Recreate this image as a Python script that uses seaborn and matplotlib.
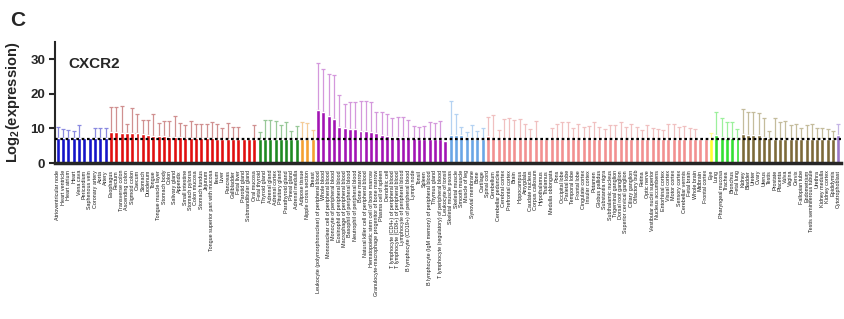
import numpy as np
import pandas as pd
import seaborn as sns
import matplotlib.pyplot as plt

nan = np.nan

# tissue groups (left to right), with bar colour and error-bar colour
group_names = ['heart', 'digestive', 'endocrine', 'breast', 'blood', 'muscle',
               'nervous', 'eye', 'respiratory', 'urogenital', 'embryo']
bar_colors = ['#1414c8', '#e01010', '#1f8a22', '#f5a030', '#a214b4', '#6aa6e6',
              '#f29090', '#ffff33', '#33e033', '#7d6a3a', '#9a78c8']
err_colors = ['#8a8ae0', '#d09090', '#98c898', '#f5cc98', '#d498dc', '#b4d2f2',
              '#f0c0c0', '#ffff99', '#9cf09c', '#c4bc9c', '#c4b4e4']

heart_labels = ['Atrioventricular node', 'Heart ventricle', 'Heart atrium', 'Heart',
                'Vena cava', 'Pericardium', 'Saphenous vein', 'Coronary artery',
                'Aorta', 'Artery']
heart_mean = [7.2, 7.2, 7.2, 7.2, 7.2, 7.1, 7.1, 7.2, 7.2, 7.2]
heart_tip = [10.3, 9.9, 9.7, 9.4, 11.0, nan, nan, 10.0, 10.1, 10.0]

digestive_labels = ['Esophagus', 'Rectum', 'Transverse colon', 'Ascending colon',
                    'Sigmoid colon', 'Caecum', 'Stomach', 'Duodenum', 'Tongue',
                    'Tongue muscle layer', 'Stomach body', 'Colon', 'Salivary gland',
                    'Appendix', 'Small intestine', 'Stomach pylorus', 'Colon mucosa',
                    'Stomach fundus', 'Jejunum', 'Tongue superior part with mucosa',
                    'Ileum', 'Liver', 'Pancreas', 'Gallbladder', 'Fetal liver',
                    'Parotid gland', 'Submandibular gland', 'Oral mucosa']
digestive_mean = [8.9, 8.9, 8.8, 8.8, 8.7, 8.6, 8.5, 8.1, 7.9, 7.8, 7.7, 7.6, 7.5, 7.4,
                  7.3, 7.2, 7.2, 7.1, 7.1, 7.1, 7.0, 7.0, 7.0, 7.0, 7.0, 6.9, 6.9, 6.9]
digestive_tip = [16.1, 16.1, 16.4, 11.4, 15.8, 14.2, 12.5, 12.5, 14.2, 11.6, 12.2, 12.3,
                 13.5, 11.5, 10.9, 12.3, 11.4, 11.4, 11.4, 11.9, 11.4, 10.1, 11.6, 10.4,
                 10.4, nan, nan, 11.0]

endocrine_labels = ['Fetal thyroid', 'Thyroid gland', 'Adrenal gland', 'Adrenal cortex',
                    'Pituitary gland', 'Parathyroid gland', 'Pineal gland',
                    'Adrenal medulla']
endocrine_mean = [7.0, 7.0, 7.0, 7.0, 7.0, 7.0, 7.0, 7.0]
endocrine_tip = [9.1, 12.5, 12.5, 12.3, 10.9, 11.8, 9.3, 10.7]

breast_labels = ['Adipose tissue', 'Nipple cross section', 'Breast']
breast_mean = [7.0, 7.0, 7.0]
breast_tip = [11.8, 11.5, 9.6]

blood_labels = ['Leukocyte (polymorphonuclear) of peripheral blood', 'Whole blood',
                'Mononuclear cell of peripheral blood', 'Monocyte of peripheral blood',
                'Eosinophil of peripheral blood', 'Macrophage of peripheral blood',
                'Basophil of peripheral blood', 'Neutrophil of peripheral blood',
                'Bone marrow', 'Natural killer cell of peripheral blood',
                'Hematopoietic stem cell of bone marrow',
                'Granulocyte-macrophage progenitor of bone marrow',
                'Plasma cell of spleen', 'Dendritic cell',
                'T lymphocyte (CD4+) of peripheral blood',
                'T lymphocyte (CD8+) of peripheral blood',
                'Lymphocyte of peripheral blood',
                'B lymphocyte (CD19+) of peripheral blood', 'Lymph node', 'Tonsil',
                'Spleen', 'B lymphocyte (IgM memory) of peripheral blood',
                'Thymus gland', 'T lymphocyte (regulatory) of peripheral blood',
                'Leukocyte of tonsil']
blood_mean = [15.3, 14.7, 13.7, 12.7, 10.3, 10.1, 9.8, 9.8, 9.4, 9.4, 9.1, 8.8, 8.2,
              7.7, 7.5, 7.5, 7.4, 7.2, 7.1, 7.0, 7.0, 7.0, 7.0, 7.0, 6.5]
blood_tip = [28.9, 27.3, 25.9, 25.6, 19.8, 17.1, 17.8, 17.8, 18.0, 17.9, 17.8, 14.7,
             14.7, 14.1, 13.0, 13.3, 13.3, 12.5, 10.8, 10.3, 10.6, 11.8, 11.6, 12.2, nan]

muscle_labels = ['Skeletal muscle psoas', 'Skeletal muscle', 'Smooth muscle',
                 'Muscle of leg', 'Synovial membrane', 'Bone', 'Cartilage']
muscle_mean = [8.2, 8.2, 8.0, 7.5, 7.0, 7.0, 7.0]
muscle_tip = [17.9, 14.3, 10.4, 9.0, 11.1, 9.4, 10.2]

nervous_labels = ['Spinal cord', 'Cerebellum', 'Cerebellar peduncles', 'Cerebral cortex',
                  'Prefrontal cortex', 'Brain', 'Hippocampus', 'Amygdala',
                  'Caudate nucleus', 'Corpus callosum', 'Hypothalamus', 'Thalamus',
                  'Medulla oblongata', 'Pons', 'Occipital lobe', 'Parietal lobe',
                  'Temporal lobe', 'Frontal lobe', 'Cingulate cortex', 'Insular cortex',
                  'Putamen', 'Globus pallidus', 'Substantia nigra', 'Subthalamic nucleus',
                  'Trigeminal ganglion', 'Dorsal root ganglion',
                  'Superior cervical ganglion', 'Ciliary ganglion', 'Olfactory bulb',
                  'Retina', 'Optic nerve', 'Vestibular nuclei superior',
                  'Nucleus accumbens', 'Entorhinal cortex', 'Visual cortex',
                  'Motor cortex', 'Sensory cortex', 'Cerebellar vermis', 'Fetal brain',
                  'Whole brain', 'Midbrain', 'Frontal cortex']
nervous_mean = [7.7, 7.2, 7.0, 7.0, 7.0, 7.0, 7.0, 7.0, 7.0, 7.0, 7.0, 7.0, 7.0, 7.0,
                7.0, 7.0, 7.0, 7.0, 7.0, 7.0, 7.0, 7.0, 7.0, 7.0, 7.0, 7.0, 7.0, 7.0,
                7.0, 7.0, 7.0, 7.0, 7.0, 7.0, 7.0, 7.0, 7.0, 7.0, 7.0, 7.0, 6.9, 6.9]
nervous_tip = [13.3, 14.0, 9.6, 12.7, 13.0, 12.5, 12.8, 11.4, 9.8, 12.2, nan, nan, 10.1,
               11.4, 11.9, 11.9, 10.1, 11.4, 10.4, 10.7, 12.0, 10.4, 9.9, 11.0, 11.1,
               11.8, 10.4, 11.4, 10.4, 9.6, 11.0, 10.1, 9.9, 9.5, 11.4, 11.4, 10.4, 10.6,
               10.0, 9.9, nan, nan]

eye_labels = ['Eye']
eye_mean = [7.0]
eye_tip = [8.6]

respiratory_labels = ['Lung', 'Pharyngeal mucosa', 'Trachea', 'Bronchus', 'Fetal lung']
respiratory_mean = [8.0, 7.5, 7.3, 7.2, 7.1]
respiratory_tip = [14.8, 13.0, 11.9, 11.9, 9.9]

urogenital_labels = ['Kidney', 'Bladder', 'Ureter', 'Ovary', 'Uterus', 'Testis',
                     'Prostate', 'Placenta', 'Vulva', 'Vagina', 'Cervix',
                     'Fallopian tube', 'Endometrium', 'Testis seminiferous tubule',
                     'Urethra', 'Kidney medulla', 'Kidney cortex', 'Epididymis']
urogenital_mean = [8.5, 8.2, 8.2, 8.0, 7.5, 7.1, 7.0, 7.0, 7.0, 7.0, 7.0, 7.0, 7.0,
                   7.0, 7.0, 7.0, 7.0, 7.0]
urogenital_tip = [15.5, 14.8, 14.8, 14.5, 13.0, 9.3, 13.0, 12.0, 12.1, 10.9, 11.3,
                  10.0, 10.9, 11.4, 10.1, 10.1, 9.8, 9.4]

embryo_labels = ['Cytotrophoblast']
embryo_mean = [8.2]
embryo_tip = [11.2]

all_labels = [heart_labels, digestive_labels, endocrine_labels, breast_labels,
              blood_labels, muscle_labels, nervous_labels, eye_labels,
              respiratory_labels, urogenital_labels, embryo_labels]
all_means = [heart_mean, digestive_mean, endocrine_mean, breast_mean, blood_mean,
             muscle_mean, nervous_mean, eye_mean, respiratory_mean, urogenital_mean,
             embryo_mean]
all_tips = [heart_tip, digestive_tip, endocrine_tip, breast_tip, blood_tip, muscle_tip,
            nervous_tip, eye_tip, respiratory_tip, urogenital_tip, embryo_tip]

rows = []
for g, labs, ms, ts in zip(group_names, all_labels, all_means, all_tips):
    for lab, m, t in zip(labs, ms, ts):
        rows.append({'tissue': lab, 'group': g, 'mean': m, 'tip': t})
df = pd.DataFrame(rows)
df['pos'] = np.arange(len(df))

sns.set_style('ticks')
plt.rcParams['font.family'] = ['Liberation Sans', 'DejaVu Sans']
plt.rcParams['mathtext.fontset'] = 'custom'
plt.rcParams['mathtext.bf'] = 'Liberation Sans:bold'
plt.rcParams['mathtext.rm'] = 'Liberation Sans:bold'
plt.rcParams['mathtext.default'] = 'bf'

fig = plt.figure(figsize=(8.45, 3.19), dpi=100)
ax = fig.add_axes([0.065, 0.489, 0.93, 0.379])

sns.barplot(data=df, x='tissue', y='mean', hue='group', order=list(df['tissue']),
            hue_order=group_names, palette=bar_colors, dodge=False, width=0.75,
            saturation=1, legend=False, ax=ax, zorder=2)

# upper error bars only
for g, ec in zip(group_names, err_colors):
    sub = df[(df['group'] == g) & df['tip'].notna()]
    ax.errorbar(sub['pos'], sub['mean'],
                yerr=[np.zeros(len(sub)), sub['tip'] - sub['mean']],
                fmt='none', ecolor=ec, elinewidth=0.9, capsize=1.2,
                capthick=0.9, zorder=1)

ax.axhline(7.0, color='black', lw=1.6, ls=(0, (1.2, 1.2)), zorder=3)

ax.set_xlim(-0.55, len(df) - 0.55)
ax.set_ylim(0, 35)
ax.set_yticks([0, 10, 20, 30])
ax.set_xticks(df['pos'])
ax.set_xticklabels(df['tissue'], rotation=90, fontsize=3.9, color='#1a1a1a')
ax.tick_params(axis='x', length=0, pad=5)
ax.tick_params(axis='y', length=4, width=1.5, labelsize=9.5, pad=3)
for t in ax.get_yticklabels():
    t.set_fontweight('bold')
ax.set_xlabel('')
ax.set_ylabel('Log$_{2}$(expression)', fontsize=10.5, fontweight='bold', labelpad=6)
sns.despine(ax=ax)
ax.spines['left'].set_linewidth(1.5)
ax.spines['bottom'].set_linewidth(2.5)

ax.text(0.017, 0.82, 'CXCR2', transform=ax.transAxes, fontsize=11,
        fontweight='bold', va='center')
fig.text(0.012, 0.935, 'C', fontsize=15, fontweight='bold', va='center')

fig.savefig('out.png', dpi=100)
